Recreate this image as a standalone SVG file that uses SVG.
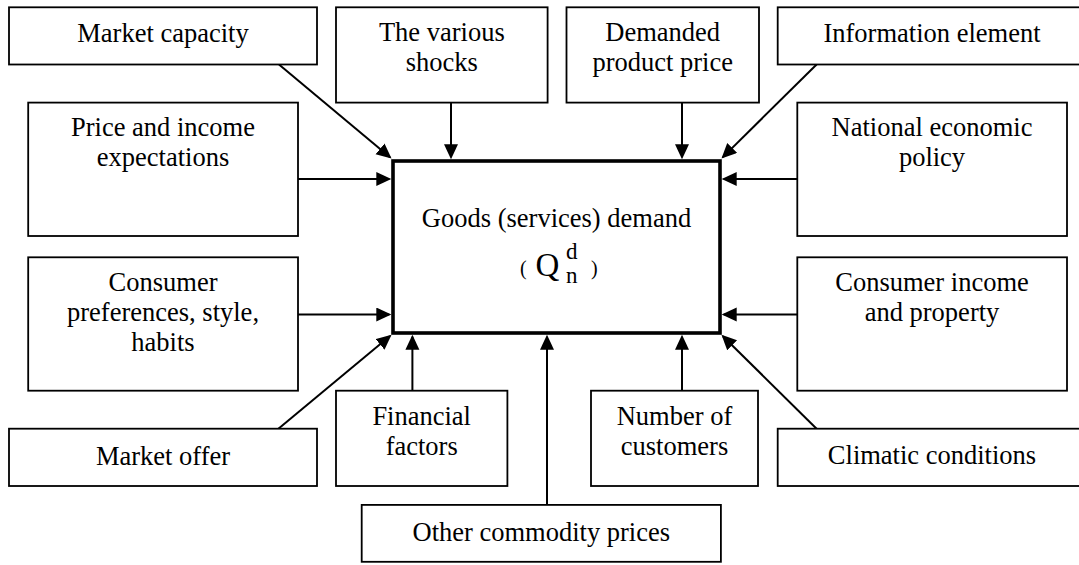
<svg xmlns="http://www.w3.org/2000/svg" width="1079" height="565" viewBox="0 0 1079 565">
<defs>
<style>
.box{fill:#fff;stroke:#000;stroke-width:1.8}
.main{fill:#fff;stroke:#000;stroke-width:3.6}
.t{font-family:'Liberation Serif','Times New Roman','DejaVu Serif',serif;font-size:26.5px;fill:#000;text-anchor:middle}
.f{font-family:'Liberation Serif','Times New Roman','DejaVu Serif',serif;fill:#000}
.c{stroke:#000;stroke-width:2;fill:none;marker-end:url(#ah)}
</style>
<marker id="ah" markerUnits="userSpaceOnUse" markerWidth="16" markerHeight="15" refX="13" refY="7" orient="auto">
<path d="M0,0 L15,7 L0,14 z" fill="#000"/>
</marker>
</defs>
<rect width="1079" height="565" fill="#fff"/>

<g id="connectors">
<line class="c" x1="279" y1="64.5" x2="390" y2="157.2"/>
<line class="c" x1="451" y1="102.6" x2="451" y2="157.3"/>
<line class="c" x1="682" y1="102.6" x2="682" y2="157.3"/>
<line class="c" x1="816.6" y1="64.5" x2="722.9" y2="157.1"/>
<line class="c" x1="298" y1="179" x2="389.3" y2="179"/>
<line class="c" x1="797" y1="179" x2="723.7" y2="179"/>
<line class="c" x1="298" y1="314.5" x2="389.3" y2="314.5"/>
<line class="c" x1="797" y1="314.5" x2="723.7" y2="314.5"/>
<line class="c" x1="278.4" y1="428.7" x2="390" y2="336.1"/>
<line class="c" x1="412.4" y1="390.7" x2="412.4" y2="336.7"/>
<line class="c" x1="547" y1="505" x2="547" y2="336.7"/>
<line class="c" x1="682" y1="390.7" x2="682" y2="336.7"/>
<line class="c" x1="816.6" y1="428.7" x2="722.9" y2="336.2"/>
</g>

<g id="center">
<rect class="main" x="393" y="161" width="327" height="172"/>
<text class="t" x="556.5" y="226.7">Goods (services) demand</text>
<text class="f">
<tspan x="520" y="275" font-size="20">(</tspan>
<tspan x="535.5" y="275.5" font-size="33">Q</tspan>
<tspan x="566" y="258.5" font-size="23">d</tspan>
<tspan x="566" y="282.5" font-size="23">n</tspan>
<tspan x="591" y="275" font-size="20">)</tspan>
</text>
</g>

<g id="market-capacity">
<rect class="box" x="9" y="7.3" width="308" height="57.2"/>
<text class="t" x="163" y="42.4">Market capacity</text>
</g>
<g id="various-shocks">
<rect class="box" x="336" y="7.3" width="211.6" height="95.3"/>
<text class="t" x="441.8" y="41.4">The various</text>
<text class="t" x="441.8" y="71.2">shocks</text>
</g>
<g id="demanded-price">
<rect class="box" x="566.5" y="7.3" width="192.5" height="95.3"/>
<text class="t" x="662.7" y="41.4">Demanded</text>
<text class="t" x="662.7" y="71.2">product price</text>
</g>
<g id="information-element">
<rect class="box" x="777.7" y="7.3" width="308.3" height="57.2"/>
<text class="t" x="932" y="42.4">Information element</text>
</g>
<g id="price-income-expectations">
<rect class="box" x="28.2" y="102.6" width="269.8" height="133.4"/>
<text class="t" x="163" y="135.7">Price and income</text>
<text class="t" x="163" y="165.5">expectations</text>
</g>
<g id="national-policy">
<rect class="box" x="797.3" y="102.6" width="269.7" height="133.4"/>
<text class="t" x="932" y="135.7">National economic</text>
<text class="t" x="932" y="165.5">policy</text>
</g>
<g id="consumer-preferences">
<rect class="box" x="28.2" y="257.3" width="269.8" height="133.4"/>
<text class="t" x="163" y="291.4">Consumer</text>
<text class="t" x="163" y="321.2">preferences, style,</text>
<text class="t" x="163" y="351">habits</text>
</g>
<g id="consumer-income">
<rect class="box" x="797.3" y="257.3" width="269.7" height="133.4"/>
<text class="t" x="932" y="291.4">Consumer income</text>
<text class="t" x="932" y="321.2">and property</text>
</g>
<g id="market-offer">
<rect class="box" x="9" y="428.7" width="308" height="57.3"/>
<text class="t" x="163" y="464.5">Market offer</text>
</g>
<g id="financial-factors">
<rect class="box" x="336" y="390.7" width="171.4" height="95.3"/>
<text class="t" x="421.7" y="424.8">Financial</text>
<text class="t" x="421.7" y="455.2">factors</text>
</g>
<g id="number-customers">
<rect class="box" x="591" y="390.7" width="167" height="95.3"/>
<text class="t" x="674.5" y="424.8">Number of</text>
<text class="t" x="674.5" y="455.2">customers</text>
</g>
<g id="climatic-conditions">
<rect class="box" x="777.7" y="428.7" width="308.3" height="57.3"/>
<text class="t" x="932" y="463.5">Climatic conditions</text>
</g>
<g id="other-prices">
<rect class="box" x="361.7" y="504.9" width="359.2" height="56.9"/>
<text class="t" x="541.3" y="540.6">Other commodity prices</text>
</g>
</svg>
